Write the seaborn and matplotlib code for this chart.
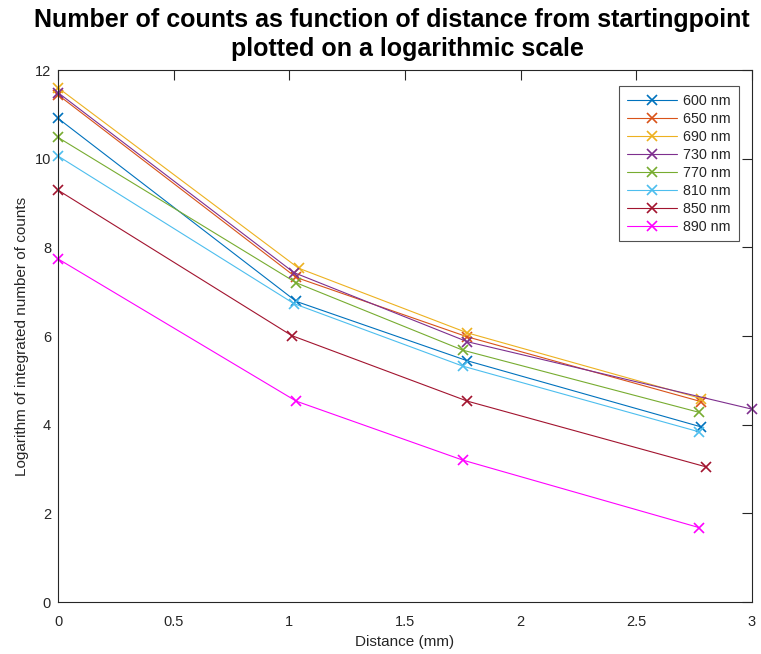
import matplotlib
matplotlib.use("Agg")
import matplotlib.pyplot as plt
import seaborn as sns
import pandas as pd

labels = ["600 nm", "650 nm", "690 nm", "730 nm", "770 nm", "810 nm", "850 nm", "890 nm"]
colors = ["#0072BD", "#D95319", "#EDB120", "#7E2F8E", "#77AC30", "#4DBEEE", "#A2142F", "#FF00FF"]

x_600 = [0.0, 1.03, 1.77, 2.78]
y_600 = [10.91, 6.78, 5.44, 3.95]
x_650 = [0.0, 1.03, 1.77, 2.78]
y_650 = [11.44, 7.32, 5.98, 4.52]
x_690 = [0.0, 1.04, 1.77, 2.78]
y_690 = [11.60, 7.53, 6.07, 4.59]
x_730 = [0.0, 1.02, 1.77, 3.0]
y_730 = [11.49, 7.43, 5.87, 4.35]
x_770 = [0.0, 1.03, 1.75, 2.77]
y_770 = [10.48, 7.20, 5.68, 4.28]
x_810 = [0.0, 1.02, 1.75, 2.77]
y_810 = [10.06, 6.73, 5.32, 3.84]
x_850 = [0.0, 1.01, 1.77, 2.80]
y_850 = [9.29, 6.01, 4.53, 3.05]
x_890 = [0.0, 1.03, 1.75, 2.77]
y_890 = [7.74, 4.53, 3.20, 1.68]

xs = [x_600, x_650, x_690, x_730, x_770, x_810, x_850, x_890]
ys = [y_600, y_650, y_690, y_730, y_770, y_810, y_850, y_890]

title_line1 = "Number of counts as function of distance from startingpoint"
title_line2 = "plotted on a logarithmic scale"

sns.set_style("white")
plt.rcParams["font.family"] = ["Liberation Sans", "DejaVu Sans"]

fig = plt.figure(figsize=(7.61, 6.54), dpi=100)
ax = fig.add_axes([58/761, 1-602/654, (752-58)/761, (602-70)/654])

for lab, c, xv, yv in zip(labels, colors, xs, ys):
    df = pd.DataFrame({"x": xv, "y": yv})
    sns.lineplot(data=df, x="x", y="y", ax=ax, color=c, marker="x", markersize=7,
                 markeredgewidth=1.2, markeredgecolor=c, markerfacecolor=c,
                 linewidth=0.8, label=lab, sort=False, estimator=None, clip_on=False)

ax.set_xlim(0, 3)
ax.set_ylim(0, 12)
ax.set_xticks([0, 0.5, 1, 1.5, 2, 2.5, 3])
ax.set_xticklabels(["0", "0.5", "1", "1.5", "2", "2.5", "3"])
ax.set_yticks([0, 2, 4, 6, 8, 10, 12])
ax.tick_params(direction="in", length=7.5, width=0.8, top=True, right=True,
               labelsize=10.5, colors="#262626")
ax.tick_params(axis="x", pad=9)
ax.tick_params(axis="y", pad=5)
for s in ax.spines.values():
    s.set_color("#262626")
    s.set_linewidth(0.8)
ax.set_xlabel("Distance (mm)", fontsize=11, color="#262626", labelpad=5)
ax.set_ylabel("Logarithm of integrated number of counts", fontsize=11, color="#262626", labelpad=4)

fig.text(391.5/761, 1-20/654, title_line1, ha="center", va="center",
         fontsize=18, fontweight="bold", color="black")
fig.text(407/761, 1-49/654, title_line2, ha="center", va="center",
         fontsize=18, fontweight="bold", color="black")

leg = ax.legend(loc="upper right", bbox_to_anchor=(0.991, 0.984), fontsize=10.3,
                frameon=True, fancybox=False, edgecolor="#262626", handlelength=3.5,
                labelspacing=0.28, borderpad=0.55, handletextpad=0.4, borderaxespad=0.5)
leg.get_frame().set_linewidth(0.8)

fig.savefig("out.png", dpi=100)
